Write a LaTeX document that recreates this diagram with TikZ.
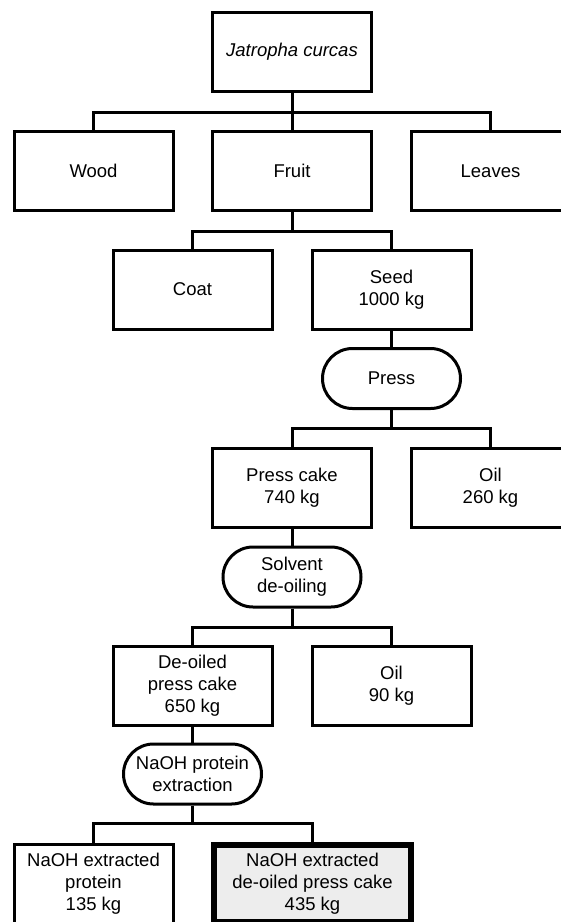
\documentclass[tikz,border=0pt]{standalone}
\usepackage{fontspec}
\setmainfont{Liberation Sans}
\begin{document}
\begin{tikzpicture}[x=1pt,y=1pt,
  every node/.style={font=\fontsize{18.5}{22}\selectfont, align=center, inner sep=0pt},
  box/.style={draw, line width=3pt, minimum width=159pt, minimum height=79pt},
  proc/.style={draw, line width=3pt, rounded corners=30pt, minimum width=138pt, minimum height=60pt},
  final/.style={draw, line width=6pt, fill=black!7, minimum width=197pt, minimum height=77pt},
  link/.style={line width=3pt}]
\useasboundingbox (0,0) rectangle (561,-922);

\node[box] (J) at (292,-52) {\itshape Jatropha curcas};
\node[box] (wood) at (93.5,-171) {Wood};
\node[box] (fruit) at (292,-171) {Fruit};
\node[box] (leaves) at (490.5,-171) {Leaves};
\node[box] (coat) at (192.5,-289.5) {Coat};
\node[box] (seed) at (391.5,-289.5) {Seed\\1000 kg};
\node[proc] (press) at (391.5,-378.5) {Press};
\node[box] (cake) at (292,-488) {Press cake\\740 kg};
\node[box] (oilA) at (490.5,-488) {Oil\\260 kg};
\node[proc] (solv) at (292,-577) {Solvent\\de-oiling};
\node[box] (deoil) at (192.5,-686) {De-oiled\\press cake\\650 kg};
\node[box] (oilB) at (391.5,-686) {Oil\\90 kg};
\node[proc] (naoh) at (192.5,-774) {NaOH protein\\extraction};
\node[box] (prot) at (93.5,-884) {NaOH extracted\\protein\\135 kg};
\node[final] (res) at (312.5,-883.5) {NaOH extracted\\de-oiled press cake\\435 kg};

\coordinate (b1) at (292,-112);
\coordinate (b2) at (292,-231);
\coordinate (b3) at (391.5,-428);
\coordinate (b4) at (292,-627);
\coordinate (b5) at (192.5,-823);

\draw[link] (J.south) -- (fruit.north);
\draw[link] (J.south) -- (b1) -| (wood.north);
\draw[link] (J.south) -- (b1) -| (leaves.north);
\draw[link] (fruit.south) -- (b2) -| (coat.north);
\draw[link] (fruit.south) -- (b2) -| (seed.north);
\draw[link] (seed.south) -- (press.north);
\draw[link] (press.south) -- (b3) -| (cake.north);
\draw[link] (press.south) -- (b3) -| (oilA.north);
\draw[link] (cake.south) -- (solv.north);
\draw[link] (solv.south) -- (b4) -| (deoil.north);
\draw[link] (solv.south) -- (b4) -| (oilB.north);
\draw[link] (deoil.south) -- (naoh.north);
\draw[link] (naoh.south) -- (b5) -| (prot.north);
\draw[link] (naoh.south) -- (b5) -| (res.north);
\end{tikzpicture}
\end{document}
